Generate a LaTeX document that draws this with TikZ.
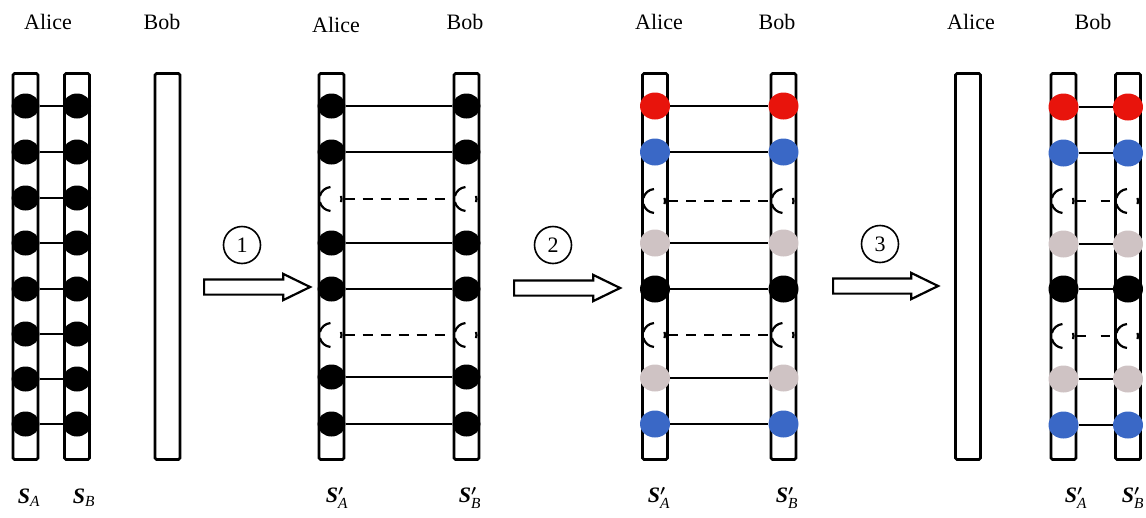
\documentclass[tikz,border=0pt]{standalone}
\usepackage{fontspec}
\usepackage{amsmath}
\setmainfont{Liberation Serif}
\usetikzlibrary{shapes.geometric,shapes.arrows}
\definecolor{qred}{HTML}{E8140C}
\definecolor{qblue}{HTML}{3A68C6}
\definecolor{qgray}{HTML}{CFC3C4}
\newcommand\SA{\textbf{\textit{S}}$_{\text{\textit{A}}}$}
\newcommand\SB{\textbf{\textit{S}}$_{\text{\textit{B}}}$}
\newcommand\SAp{\textbf{\textit{S}}$^{\boldsymbol{\prime}}_{\text{\textit{A}}}$}
\newcommand\SBp{\textbf{\textit{S}}$^{\boldsymbol{\prime}}_{\text{\textit{B}}}$}
\begin{document}
\begin{tikzpicture}[x=1pt,y=-1pt,
  col/.style={draw, line width=2.8pt, rounded corners=1.5pt, minimum width=25,
    minimum height=386, inner sep=0},
  qdot/.style={ellipse, fill=#1, minimum width=28, minimum height=25, inner sep=0},
  cdot/.style={ellipse, fill=#1, minimum width=30, minimum height=27, inner sep=0},
  ghost/.style={ellipse, minimum width=26, minimum height=24, inner sep=0},
  link/.style={line width=2pt},
  dlink/.style={line width=2.2pt, dash pattern=on 10pt off 8pt},
  sdlink/.style={line width=2.2pt, dash pattern=on 9pt off 15pt},
  brk/.style={line width=2.2pt},
  lbl/.style={font=\fontsize{22}{26}\selectfont, inner sep=0},
  slbl/.style={font=\fontsize{22}{26}\selectfont, inner sep=0},
  num/.style={circle, draw, line width=1.6pt, minimum size=37, inner sep=0,
    font=\fontsize{22}{26}\selectfont},
  barrow/.style={single arrow, draw, line width=2.2pt, fill=white, anchor=tail,
    inner xsep=0, inner ysep=6.5pt, single arrow head extend=5.5,
    single arrow tip angle=52, minimum height=106}
]
\useasboundingbox (0,0) rectangle (1146,517);

% broken pair member: arcs of an interrupted circle
\newcommand\brokenpt[3]{%
  \node[ghost] (#1) at (#2,#3) {};
  \draw[brk] ([shift={(95:12)}]#1.center) arc (95:165:12);
  \draw[brk] ([shift={(195:12)}]#1.center) arc (195:265:12);
  \draw[brk] ([shift={(-18:10)}]#1.center) arc (-18:18:10);
}

% ---------------- panel 1 ----------------
\node[lbl] (t1a) at (48,22) {Alice};
\node[lbl] (t1b) at (162,22) {Bob};
\node[col] (c1a) at (25.5,266.5) {};
\node[col] (c1b) at (77,266.5) {};
\node[col] (c1c) at (167.5,266.5) {};
\foreach \i/\y in {1/106,2/152,3/198,4/243,5/289,6/334,7/379,8/424}{
  \node[qdot=black] (p1a\i) at (25.5,\y) {};
  \node[qdot=black] (p1b\i) at (77,\y) {};
  \draw[link] (p1a\i.east) -- (p1b\i.west);
}
\node[slbl] (s1a) at (29,498) {\SA};
\node[slbl] (s1b) at (84,498) {\SB};

% ---------------- step 1 ----------------
\node[num] (n1) at (242,245) {1};
\node[barrow] (ar1) at (203,287) {};

% ---------------- panel 2 ----------------
\node[lbl] (t2a) at (336,25) {Alice};
\node[lbl] (t2b) at (465,22) {Bob};
\node[col] (c2a) at (331.5,266.5) {};
\node[col] (c2b) at (466.5,266.5) {};
\foreach \i/\y in {1/106,2/152,4/243,5/289,7/377,8/424}{
  \node[qdot=black] (p2a\i) at (331.5,\y) {};
  \node[qdot=black] (p2b\i) at (466.5,\y) {};
  \draw[link] (p2a\i.east) -- (p2b\i.west);
}
\foreach \i/\y in {3/199,6/335}{
  \brokenpt{p2a\i}{331.5}{\y}
  \brokenpt{p2b\i}{466.5}{\y}
  \draw[dlink] (p2a\i.east) -- (p2b\i.west);
}
\node[slbl] (s2a) at (337,498) {\SAp};
\node[slbl] (s2b) at (470,498) {\SBp};

% ---------------- step 2 ----------------
\node[num] (n2) at (553,245) {2};
\node[barrow] (ar2) at (513,288) {};

% ---------------- panel 3 ----------------
\node[lbl] (t3a) at (659,22) {Alice};
\node[lbl] (t3b) at (777,22) {Bob};
\node[col] (c3a) at (655,266.5) {};
\node[col] (c3b) at (783.5,266.5) {};
\foreach \i/\y/\c in {1/106/qred,2/152/qblue,4/243/qgray,5/289/black,7/378/qgray,8/424/qblue}{
  \node[cdot=\c] (p3a\i) at (655,\y) {};
  \node[cdot=\c] (p3b\i) at (783.5,\y) {};
  \draw[link] (p3a\i.east) -- (p3b\i.west);
}
\foreach \i/\y in {3/201,6/335}{
  \brokenpt{p3a\i}{655}{\y}
  \brokenpt{p3b\i}{783.5}{\y}
  \draw[dlink] (p3a\i.east) -- (p3b\i.west);
}
\node[slbl] (s3a) at (659,498) {\SAp};
\node[slbl] (s3b) at (787,498) {\SBp};

% ---------------- step 3 ----------------
\node[num] (n3) at (880,244) {3};
\node[barrow, minimum height=105] (ar3) at (832,286) {};

% ---------------- panel 4 ----------------
\node[lbl] (t4a) at (971,22) {Alice};
\node[lbl] (t4b) at (1093,22) {Bob};
\node[col] (c4a) at (968,266.5) {};
\node[col] (c4b) at (1063.5,266.5) {};
\node[col] (c4c) at (1128,266.5) {};
\foreach \i/\y/\c in {1/107/qred,2/153/qblue,4/244/qgray,5/289/black,7/379/qgray,8/425/qblue}{
  \node[cdot=\c] (p4a\i) at (1063.5,\y) {};
  \node[cdot=\c] (p4b\i) at (1128,\y) {};
  \draw[link] (p4a\i.east) -- (p4b\i.west);
}
\foreach \i/\y in {3/201,6/336}{
  \brokenpt{p4a\i}{1063.5}{\y}
  \brokenpt{p4b\i}{1128}{\y}
  \draw[sdlink] (p4a\i.east) -- (p4b\i.west);
}
\node[slbl] (s4a) at (1076,498) {\SAp};
\node[slbl] (s4b) at (1133,498) {\SBp};
\end{tikzpicture}
\end{document}
